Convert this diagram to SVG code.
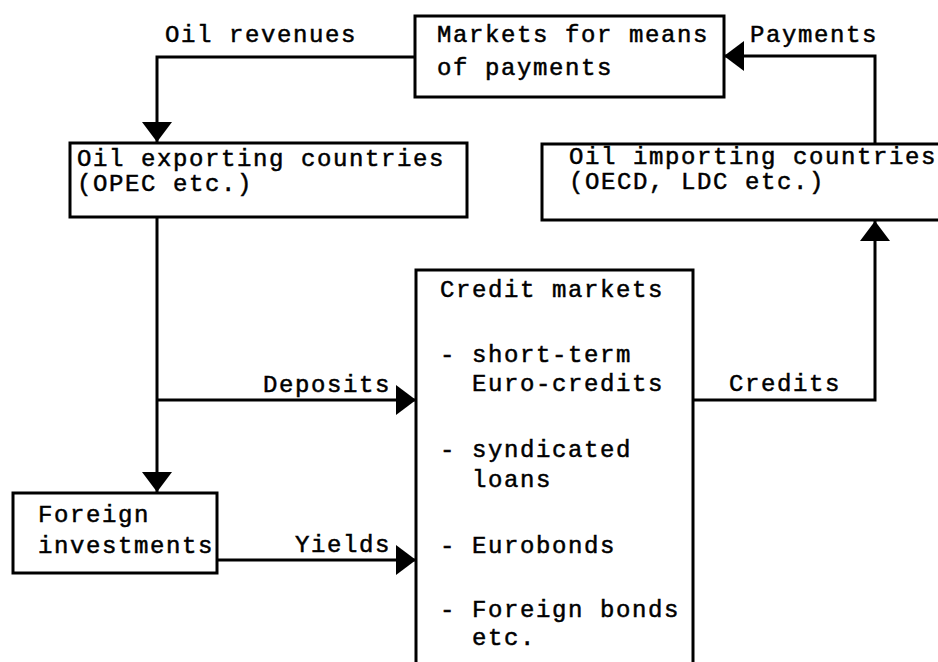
<svg xmlns="http://www.w3.org/2000/svg" width="938" height="662" viewBox="0 0 938 662">
<style>
  .box { fill: #fff; stroke: #000; stroke-width: 3; }
  .conn { fill: none; stroke: #000; stroke-width: 3; }
  text { font-family: "Liberation Mono", "Courier New", monospace; font-size: 24px; letter-spacing: 1.6px; fill: #000; stroke: #000; stroke-width: 0.5; }
</style>
<defs>
  <marker id="ah" markerUnits="userSpaceOnUse" markerWidth="20" markerHeight="30" refX="20" refY="15" orient="auto" viewBox="0 0 20 30">
    <path d="M0,0 L20,15 L0,30 z" fill="#000"/>
  </marker>
</defs>
<rect width="938" height="662" fill="#fff"/>
<g id="connectors">
  <path class="conn" d="M415,57 H157 V142" marker-end="url(#ah)"/>
  <path class="conn" d="M875,144 V56 H724" marker-end="url(#ah)"/>
  <path class="conn" d="M157,217 V492" marker-end="url(#ah)"/>
  <path class="conn" d="M157,400 H416" marker-end="url(#ah)"/>
  <path class="conn" d="M217,560 H416" marker-end="url(#ah)"/>
  <path class="conn" d="M693,400 H875 V221" marker-end="url(#ah)"/>
  <text x="165" y="42">Oil revenues</text>
  <text x="750" y="42">Payments</text>
  <text x="263" y="392">Deposits</text>
  <text x="295" y="552">Yields</text>
  <text x="729" y="391">Credits</text>
</g>
<g id="markets">
  <rect class="box" x="415" y="16" width="309" height="81"/>
  <text x="437" y="42">Markets for means</text>
  <text x="437" y="75">of payments</text>
</g>
<g id="exporting">
  <rect class="box" x="70" y="143" width="397" height="74"/>
  <text x="77" y="166">Oil exporting countries</text>
  <text x="77" y="191">(OPEC etc.)</text>
</g>
<g id="importing">
  <rect class="box" x="542" y="144" width="420" height="76"/>
  <text x="569" y="164">Oil importing countries</text>
  <text x="569" y="189">(OECD, LDC etc.)</text>
</g>
<g id="credit">
  <rect class="box" x="416" y="270" width="277" height="420"/>
  <text x="440" y="297">Credit markets</text>
  <text x="440" y="362">- short-term</text>
  <text x="472" y="391">Euro-credits</text>
  <text x="440" y="457">- syndicated</text>
  <text x="472" y="487">loans</text>
  <text x="440" y="553">- Eurobonds</text>
  <text x="440" y="617">- Foreign bonds</text>
  <text x="472" y="645">etc.</text>
</g>
<g id="foreign">
  <rect class="box" x="13" y="493" width="204" height="80"/>
  <text x="38" y="522">Foreign</text>
  <text x="38" y="553">investments</text>
</g>
</svg>
